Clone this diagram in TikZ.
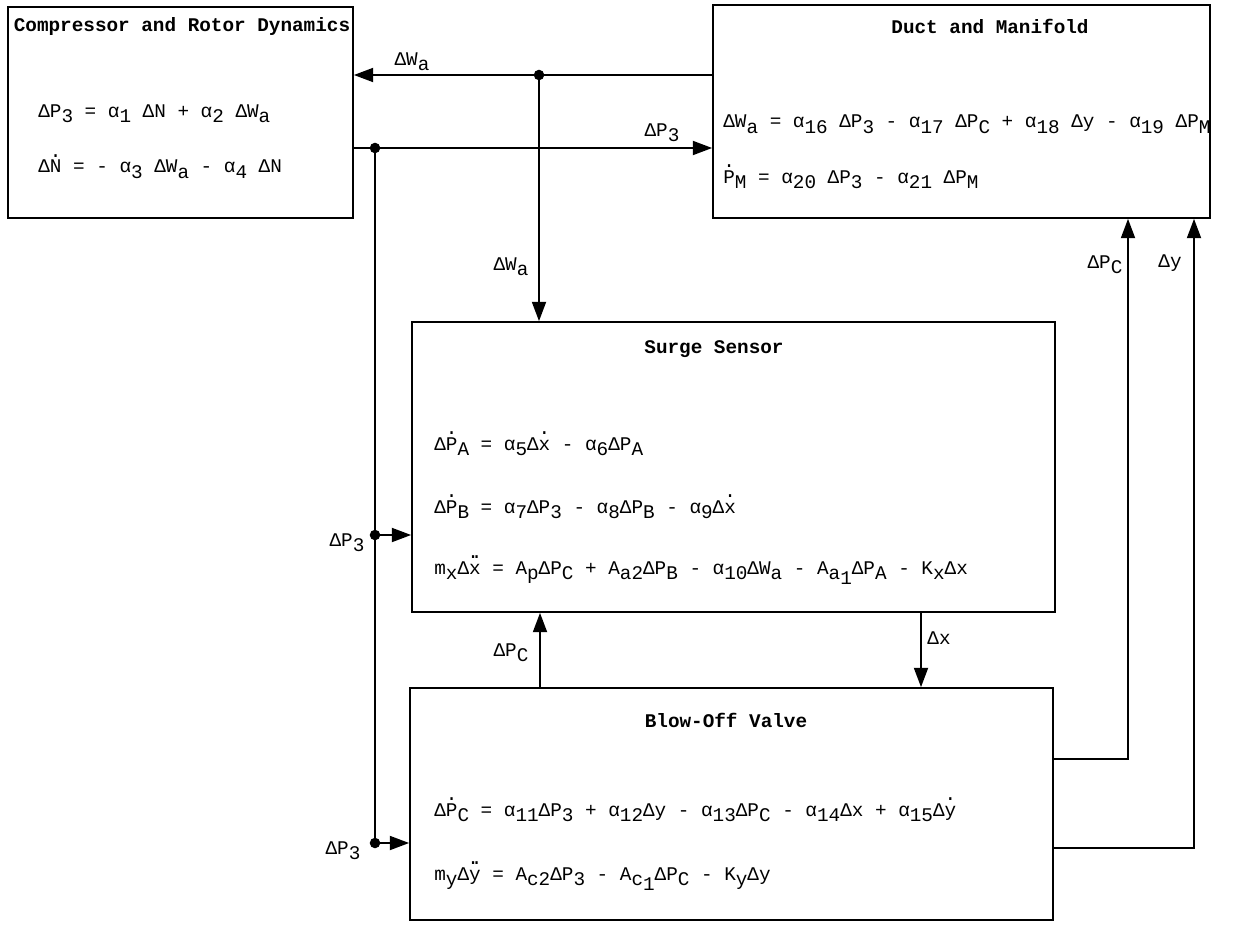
\documentclass[tikz,border=0pt]{standalone}
\usepackage{fontspec}
\usetikzlibrary{arrows.meta,fit}
\newfontfamily\tw{Liberation Mono}
\newcommand\lo[1]{\raisebox{-0.5ex}{#1}}
\newcommand\dt[1]{{\setbox0\hbox{#1}\hbox to \wd0{\hss\raisebox{0.8em}{.}\hss}\kern-\wd0\box0}}
\newcommand\ddt[1]{{\setbox0\hbox{#1}\hbox to \wd0{\hss\raisebox{0.8em}{.\kern-0.42em.}\hss}\kern-\wd0\box0}}
\tikzset{
  blk/.style={draw, line width=1pt, inner sep=0pt, fit=#1},
  txt/.style={font=\tw\fontsize{11}{13}\selectfont, inner sep=0pt, anchor=base west},
  ttl/.style={font=\tw\bfseries\fontsize{11}{13}\selectfont, inner sep=0pt},
  lbl/.style={font=\tw\fontsize{11}{13}\selectfont, inner sep=0pt},
  ln/.style={line width=1pt},
  arr/.style={line width=1pt, -{Triangle[length=11pt,width=8pt]}},
  jdot/.style={circle, fill, inner sep=0pt, minimum size=6pt}
}
\begin{document}
\begin{tikzpicture}[x=0.02cm, y=-0.02cm]
\useasboundingbox (0,0) rectangle (1237,926);
% box corners
\coordinate (c1a) at (8,7);    \coordinate (c1b) at (353,218);
\coordinate (c2a) at (713,5);  \coordinate (c2b) at (1210,218);
\coordinate (c3a) at (412,322); \coordinate (c3b) at (1055,612);
\coordinate (c4a) at (410,688); \coordinate (c4b) at (1053,920);
\node[blk={(c1a)(c1b)}] (comp) {};
\node[blk={(c2a)(c2b)}] (duct) {};
\node[blk={(c3a)(c3b)}] (sens) {};
\node[blk={(c4a)(c4b)}] (valve) {};
% titles
\node[ttl] (t1) at (182,27) {Compressor and Rotor Dynamics};
\node[ttl] (t2) at (990,26) {Duct and Manifold};
\node[ttl] (t3) at (714,349) {Surge Sensor};
\node[ttl] (t4) at (726,720) {Blow-Off Valve};
% equations
\node[txt] (e1) at (38,117) {ΔP\lo{3} = α\lo{1} ΔN + α\lo{2} ΔW\lo{a}};
\node[txt] (e2) at (38,173) {Δ\dt{N} = - α\lo{3} ΔW\lo{a} - α\lo{4} ΔN};
\node[txt] (e3) at (723,128) {ΔW\lo{a} = α\lo{16} ΔP\lo{3} - α\lo{17} ΔP\lo{C} + α\lo{18} Δy - α\lo{19} ΔP\lo{M}};
\node[txt] (e4) at (723,183) {\dt{P}\lo{M} = α\lo{20} ΔP\lo{3} - α\lo{21} ΔP\lo{M}};
\node[txt] (e5) at (434,450) {Δ\dt{P}\lo{A} = α\lo{5}Δ\dt{x} - α\lo{6}ΔP\lo{A}};
\node[txt] (e6) at (434,513) {Δ\dt{P}\lo{B} = α\lo{7}ΔP\lo{3} - α\lo{8}ΔP\lo{B} - α\lo{9}Δ\dt{x}};
\node[txt] (e7) at (434,574) {m\lo{x}Δ\ddt{x} = A\lo{p}ΔP\lo{C} + A\lo{a2}ΔP\lo{B} - α\lo{10}ΔW\lo{a} - A\lo{a\lo{1}}ΔP\lo{A} - K\lo{x}Δx};
\node[txt] (e8) at (434,816) {Δ\dt{P}\lo{C} = α\lo{11}ΔP\lo{3} + α\lo{12}Δy - α\lo{13}ΔP\lo{C} - α\lo{14}Δx + α\lo{15}Δ\dt{y}};
\node[txt] (e9) at (434,880) {m\lo{y}Δ\ddt{y} = A\lo{c2}ΔP\lo{3} - A\lo{c\lo{1}}ΔP\lo{C} - K\lo{y}Δy};
% junctions and routing points
\node[jdot] (j1) at (539,75) {};
\node[jdot] (j2) at (375,148) {};
\node[jdot] (j3) at (375,535) {};
\node[jdot] (j4) at (375,843) {};
\coordinate (pc) at (540,650);
\coordinate (dx) at (921,650);
\coordinate (r1) at (1128,759);
\coordinate (r2) at (1194,848);
% connectors
\draw[arr] (j1 -| duct.west) -- (j1 -| comp.east);
\draw[arr] (j1.center) -- (j1 |- sens.north);
\draw[arr] (j2 -| comp.east) -- (j2 -| duct.west);
\draw[ln] (j2.center) -- (j4.center);
\draw[arr] (j3.center) -- (j3 -| sens.west);
\draw[arr] (j4.center) -- (j4 -| valve.west);
\draw[arr] (pc |- valve.north) -- (pc |- sens.south);
\draw[arr] (dx |- sens.south) -- (dx |- valve.north);
\draw[arr] (r1 -| valve.east) -- (r1) -- (r1 |- duct.south);
\draw[arr] (r2 -| valve.east) -- (r2) -- (r2 |- duct.south);
% labels
\node[lbl] (l1) at (412,62) {ΔW\lo{a}};
\node[lbl] (l2) at (662,133) {ΔP\lo{3}};
\node[lbl] (l3) at (511,267) {ΔW\lo{a}};
\node[lbl] (l4) at (347,543) {ΔP\lo{3}};
\node[lbl] (l5) at (343,851) {ΔP\lo{3}};
\node[lbl] (l6) at (511,653) {ΔP\lo{C}};
\node[lbl] (l7) at (939,638) {Δx};
\node[lbl] (l8) at (1105,265) {ΔP\lo{C}};
\node[lbl] (l9) at (1170,263) {Δy};
\end{tikzpicture}
\end{document}
